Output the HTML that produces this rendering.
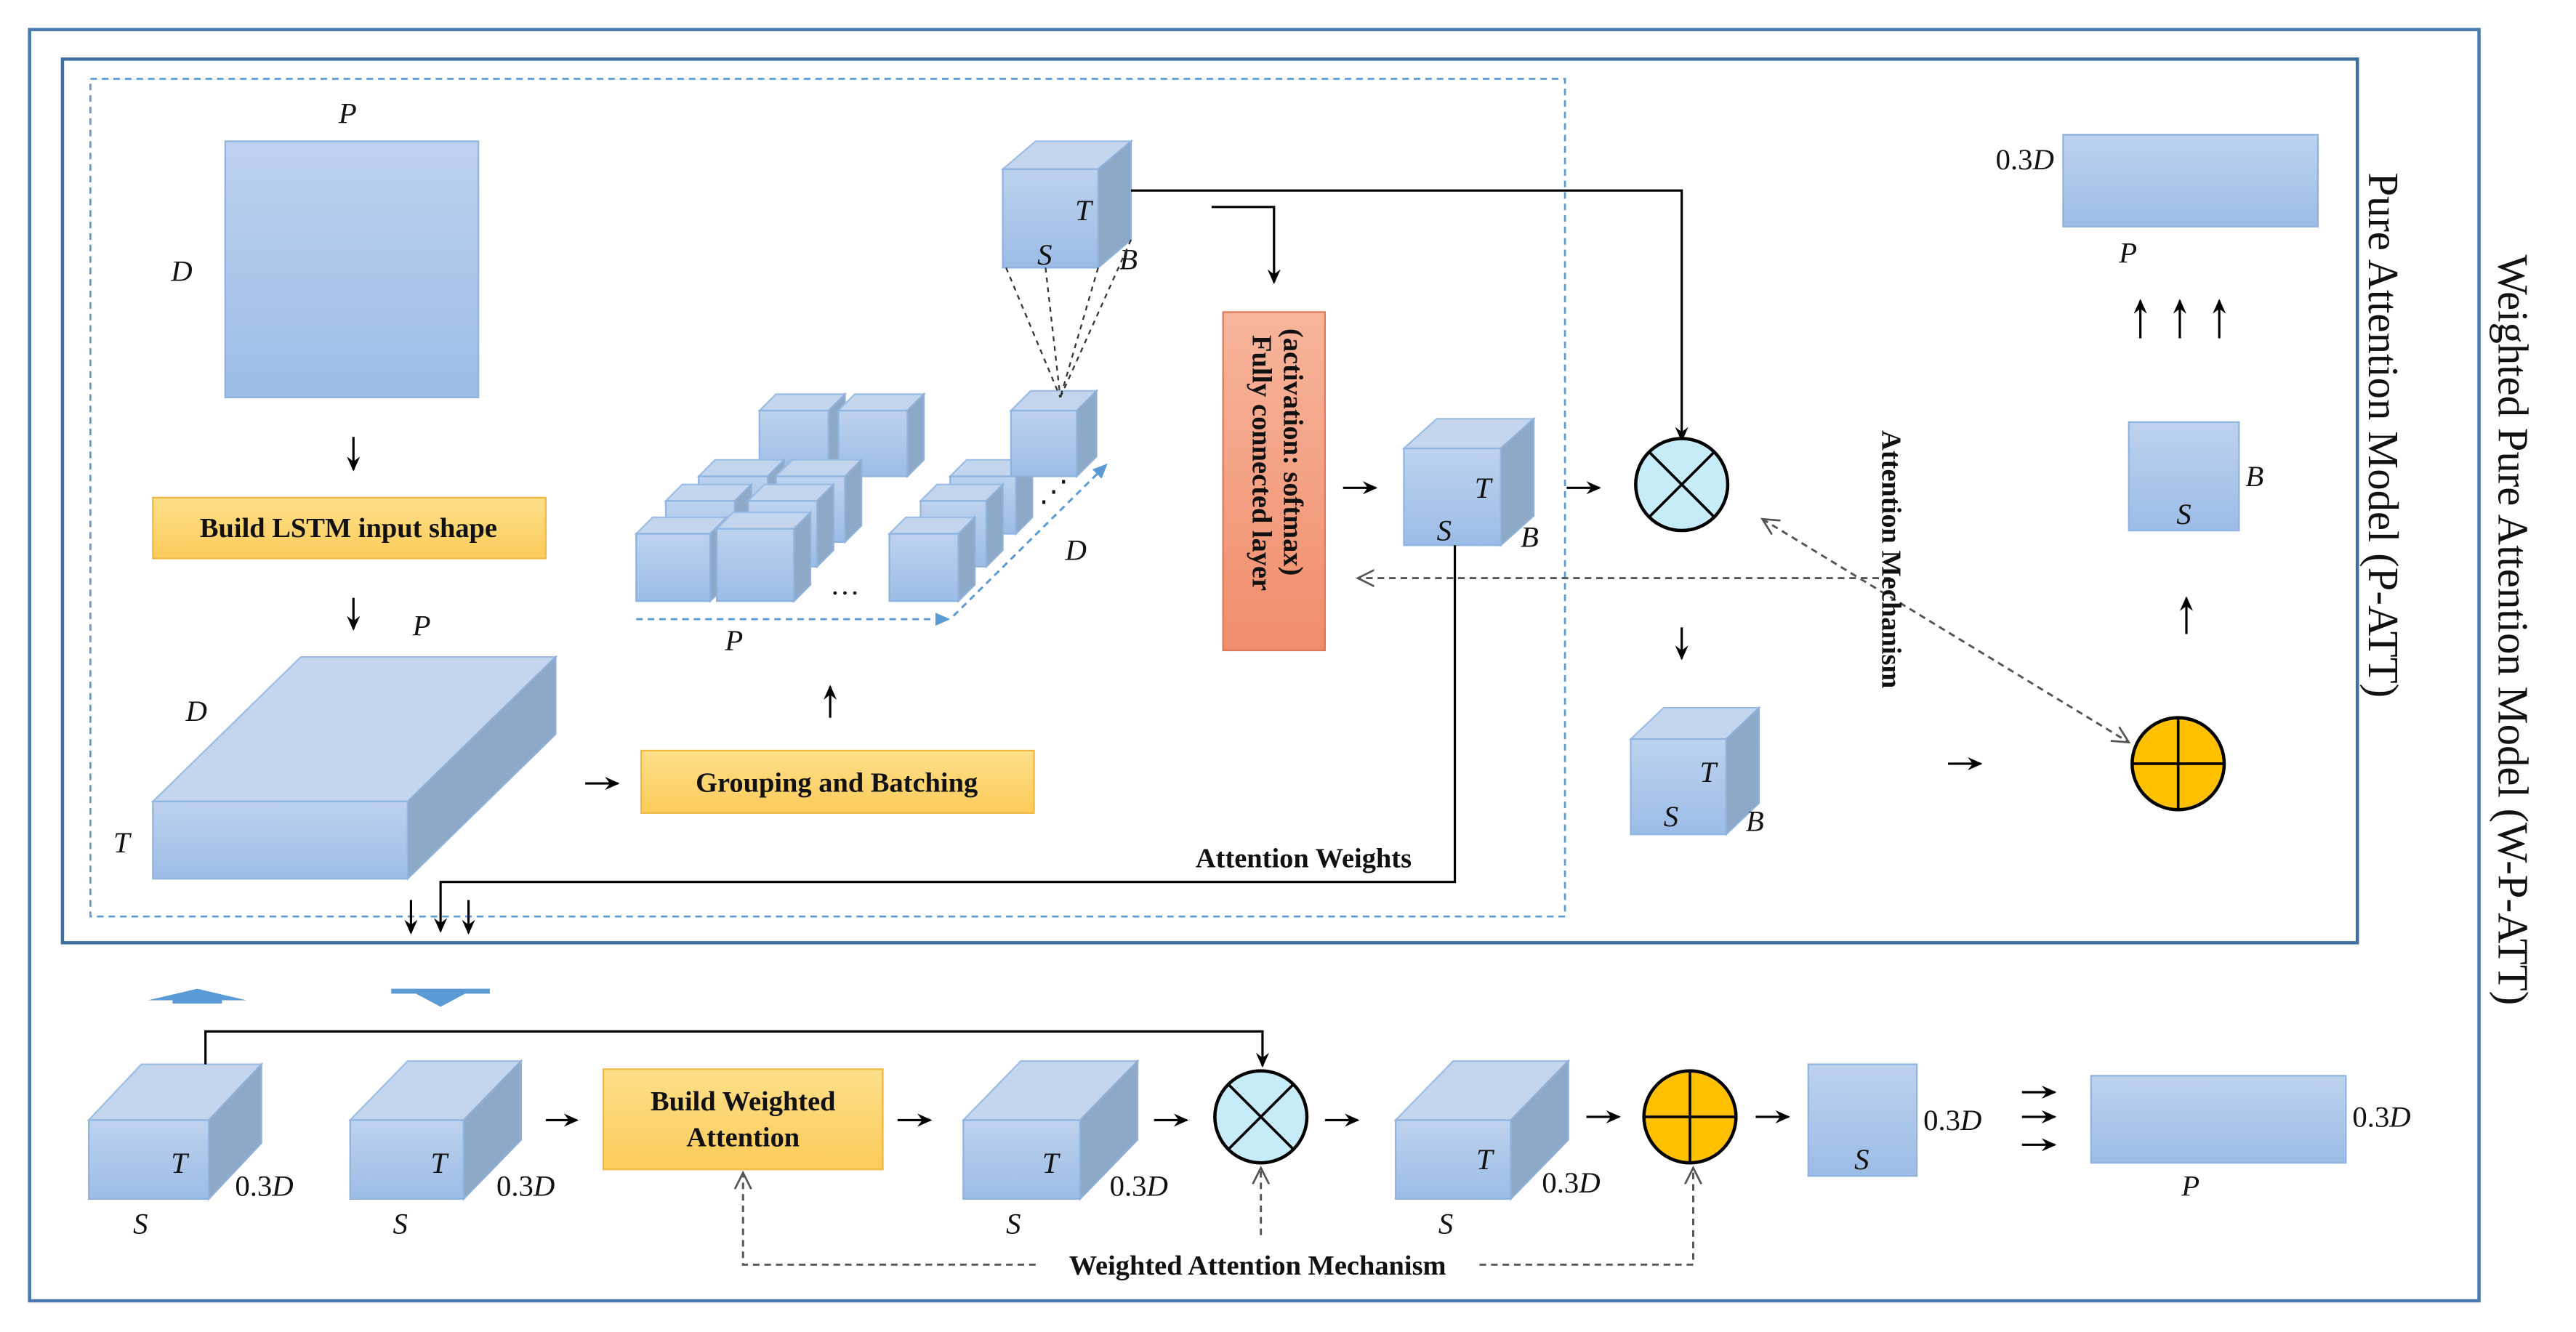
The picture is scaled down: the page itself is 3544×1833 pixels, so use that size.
<!DOCTYPE html>
<html><head><meta charset="utf-8"><style>
html,body{margin:0;padding:0;background:#fff;}
svg{display:block;}
.l{font-family:"Liberation Serif",serif;font-style:italic;font-size:18px;fill:#111;}
.b{font-family:"Liberation Serif",serif;font-weight:bold;font-size:17px;fill:#111;}
.t{font-family:"Liberation Serif",serif;font-size:26px;fill:#111;}
.fr{fill:url(#gf);stroke:#8fb4e0;stroke-width:1;}
.tp{fill:#c3d6ee;stroke:#9cbde6;stroke-width:1;}
.sd{fill:#8ea8c8;stroke:#8fb0d8;stroke-width:1;}
.ar{stroke:#000;stroke-width:1.4;fill:none;marker-end:url(#ah);}
.da{stroke:#555;stroke-width:1.3;fill:none;stroke-dasharray:4,3;}
</style></head><body>
<svg width="3544" height="1833" viewBox="0 0 1567 811" preserveAspectRatio="none" xmlns="http://www.w3.org/2000/svg">
<defs>
<linearGradient id="gf" x1="0" y1="0" x2="0" y2="1"><stop offset="0" stop-color="#bdd2ee"/><stop offset="1" stop-color="#9cbce6"/></linearGradient>
<linearGradient id="go" x1="0" y1="0" x2="0" y2="1"><stop offset="0" stop-color="#fddf8a"/><stop offset="1" stop-color="#fccb5a"/></linearGradient>
<linearGradient id="gs" x1="0" y1="0" x2="0" y2="1"><stop offset="0" stop-color="#f7b59c"/><stop offset="1" stop-color="#f08d6c"/></linearGradient>
<marker id="ah" markerWidth="10" markerHeight="10" refX="8" refY="5" orient="auto" markerUnits="userSpaceOnUse"><path d="M0,1 L9,5 L0,9 L3,5 Z" fill="#000"/></marker>
<marker id="oh" markerWidth="12" markerHeight="12" refX="10" refY="6" orient="auto" markerUnits="userSpaceOnUse"><path d="M0,1 L10,6 L0,11" fill="none" stroke="#555" stroke-width="1.2"/></marker>
<marker id="os" markerWidth="12" markerHeight="12" refX="2" refY="6" orient="auto" markerUnits="userSpaceOnUse"><path d="M12,1 L2,6 L12,11" fill="none" stroke="#555" stroke-width="1.2"/></marker>
<marker id="bh" markerWidth="10" markerHeight="10" refX="8" refY="5" orient="auto" markerUnits="userSpaceOnUse"><path d="M0,1 L9,5 L0,9 Z" fill="#5b9bd5"/></marker>
</defs>

<rect x="18" y="18" width="1490" height="774" fill="none" stroke="#4a7bb0" stroke-width="2"/>
<rect x="38" y="36" width="1396" height="538" fill="none" stroke="#3f6f9f" stroke-width="2"/>
<rect x="55" y="48" width="897" height="510" fill="none" stroke="#5b9bd5" stroke-width="1.2" stroke-dasharray="4,3"/>

<text class="t" transform="translate(1441,105) rotate(90)">Pure Attention Model (P-ATT)</text>
<text class="t" transform="translate(1520,155) rotate(90)">Weighted Pure Attention Model (W-P-ATT)</text>

<rect x="137" y="86" width="154" height="156" class="fr"/>
<text class="l" x="206" y="75">P</text><text class="l" x="104" y="171">D</text>
<line x1="215" y1="266" x2="215" y2="286" class="ar"/>
<rect x="93" y="303" width="239" height="37" fill="url(#go)" stroke="#f0b840"/>
<text class="b" x="212" y="327" text-anchor="middle">Build LSTM input shape</text>
<line x1="215" y1="364" x2="215" y2="383" class="ar"/>
<polygon class="tp" points="93,488 183,400 338,400 248,488"/>
<polygon class="sd" points="248,488 338,400 338,447 248,535"/>
<rect x="93" y="488" width="155" height="47" class="fr"/>
<text class="l" x="251" y="387">P</text><text class="l" x="113" y="439">D</text><text class="l" x="69" y="519">T</text>
<line x1="356" y1="477" x2="376" y2="477" class="ar"/>
<rect x="390" y="457" width="239" height="38" fill="url(#go)" stroke="#f0b840"/>
<text class="b" x="509" y="482" text-anchor="middle">Grouping and Batching</text>
<line x1="505" y1="437" x2="505" y2="418" class="ar"/>

<g>
<polygon class="tp" points="462,250 472,240 514,240 504,250"/><polygon class="sd" points="504,250 514,240 514,280 504,290"/><rect class="fr" x="462" y="250" width="42" height="40"/>
<polygon class="tp" points="510,250 520,240 562,240 552,250"/><polygon class="sd" points="552,250 562,240 562,280 552,290"/><rect class="fr" x="510" y="250" width="42" height="40"/>
<polygon class="tp" points="425,290 435,280 477,280 467,290"/><polygon class="sd" points="467,290 477,280 477,315 467,325"/><rect class="fr" x="425" y="290" width="42" height="35"/>
<polygon class="tp" points="472,290 482,280 524,280 514,290"/><polygon class="sd" points="514,290 524,280 524,320 514,330"/><rect class="fr" x="472" y="290" width="42" height="40"/>
<polygon class="tp" points="405,305 415,295 457,295 447,305"/><polygon class="sd" points="447,305 457,295 457,330 447,340"/><rect class="fr" x="405" y="305" width="42" height="35"/>
<polygon class="tp" points="455,305 465,295 507,295 497,305"/><polygon class="sd" points="497,305 507,295 507,335 497,345"/><rect class="fr" x="455" y="305" width="42" height="40"/>
<polygon class="tp" points="387,325 397,315 442,315 432,325"/><polygon class="sd" points="432,325 442,315 442,356 432,366"/><rect class="fr" x="387" y="325" width="45" height="41"/>
<polygon class="tp" points="436,322 446,312 493,312 483,322"/><polygon class="sd" points="483,322 493,312 493,356 483,366"/><rect class="fr" x="436" y="322" width="47" height="44"/>
<polygon class="tp" points="578,290 588,280 628,280 618,290"/><polygon class="sd" points="618,290 628,280 628,315 618,325"/><rect class="fr" x="578" y="290" width="40" height="35"/>
<polygon class="tp" points="560,305 570,295 610,295 600,305"/><polygon class="sd" points="600,305 610,295 610,335 600,345"/><rect class="fr" x="560" y="305" width="40" height="40"/>
<polygon class="tp" points="541,325 551,315 593,315 583,325"/><polygon class="sd" points="583,325 593,315 593,356 583,366"/><rect class="fr" x="541" y="325" width="42" height="41"/>
<polygon class="tp" points="615,250 627,238 667,238 655,250"/><polygon class="sd" points="655,250 667,238 667,278 655,290"/><rect class="fr" x="615" y="250" width="40" height="40"/>
</g>
<text class="l" x="505" y="362" style="font-style:normal">…</text>
<text class="l" x="632" y="305" style="font-style:normal">⋰</text>
<line x1="387" y1="377" x2="577" y2="377" stroke="#5b9bd5" stroke-width="1.3" stroke-dasharray="4,3" marker-end="url(#bh)"/>
<line x1="580" y1="375" x2="673" y2="283" stroke="#5b9bd5" stroke-width="1.3" stroke-dasharray="4,3" marker-end="url(#bh)"/>
<text class="l" x="441" y="396">P</text><text class="l" x="648" y="341">D</text>

<polygon class="tp" points="610,103 630,86 688,86 668,103"/><polygon class="sd" points="668,103 688,86 688,146 668,163"/><rect class="fr" x="610" y="103" width="58" height="60"/>
<text class="l" x="654" y="134">T</text><text class="l" x="631" y="161">S</text><text class="l" x="681" y="164">B</text>
<g stroke="#333" stroke-width="1" stroke-dasharray="3,3"><line x1="612" y1="163" x2="645" y2="242"/><line x1="636" y1="163" x2="645" y2="242"/><line x1="668" y1="163" x2="645" y2="242"/><line x1="688" y1="146" x2="645" y2="242"/></g>

<polyline points="688,116 1023,116 1023,268" class="ar"/>
<polyline points="737,126 775,126 775,172" class="ar"/>
<rect x="744" y="190" width="62" height="206" fill="url(#gs)" stroke="#e0785a"/>
<text class="b" transform="translate(781,200) rotate(90)">(activation: softmax)</text>
<text class="b" transform="translate(762,204) rotate(90)">Fully connected layer</text>
<line x1="817" y1="297" x2="837" y2="297" class="ar"/>
<polygon class="tp" points="854,273 874,255 933,255 913,273"/><polygon class="sd" points="913,273 933,255 933,314 913,332"/><rect class="fr" x="854" y="273" width="59" height="59"/>
<text class="l" x="897" y="303">T</text><text class="l" x="874" y="329">S</text><text class="l" x="925" y="333">B</text>
<line x1="953" y1="297" x2="973" y2="297" class="ar"/>
<g><ellipse cx="1023" cy="295" rx="28" ry="28" fill="#c5ecf8" stroke="#000" stroke-width="2"/><line x1="1003" y1="275" x2="1043" y2="315" stroke="#000" stroke-width="1.6"/><line x1="1043" y1="275" x2="1003" y2="315" stroke="#000" stroke-width="1.6"/></g>
<polyline points="885,332 885,537 268,537 268,567" class="ar"/>
<line x1="250" y1="548" x2="250" y2="568" class="ar"/><line x1="285" y1="548" x2="285" y2="568" class="ar"/>
<text class="b" x="793" y="528" text-anchor="middle">Attention Weights</text>
<line x1="1150" y1="352" x2="826" y2="352" class="da" marker-end="url(#oh)"/>
<line x1="1072" y1="316" x2="1295" y2="452" class="da" marker-end="url(#oh)" marker-start="url(#os)"/>
<text class="b" transform="translate(1145,262) rotate(90)">Attention Mechanism</text>
<line x1="1023" y1="382" x2="1023" y2="401" class="ar"/>
<polygon class="tp" points="992,450 1012,431 1070,431 1050,450"/><polygon class="sd" points="1050,450 1070,431 1070,489 1050,508"/><rect class="fr" x="992" y="450" width="58" height="58"/>
<text class="l" x="1034" y="476">T</text><text class="l" x="1012" y="503">S</text><text class="l" x="1062" y="506">B</text>
<line x1="1185" y1="465" x2="1205" y2="465" class="ar"/>
<g><ellipse cx="1325" cy="465" rx="28" ry="28" fill="#ffc000" stroke="#000" stroke-width="2"/><line x1="1297" y1="465" x2="1353" y2="465" stroke="#000" stroke-width="1.6"/><line x1="1325" y1="437" x2="1325" y2="493" stroke="#000" stroke-width="1.6"/></g>
<line x1="1330" y1="386" x2="1330" y2="364" class="ar"/>
<rect class="fr" x="1295" y="257" width="67" height="66"/>
<text class="l" x="1366" y="296">B</text><text class="l" x="1324" y="319">S</text>
<line x1="1302" y1="206" x2="1302" y2="183" class="ar"/><line x1="1326" y1="206" x2="1326" y2="183" class="ar"/><line x1="1350" y1="206" x2="1350" y2="183" class="ar"/>
<rect class="fr" x="1255" y="82" width="155" height="56"/>
<text class="l" x="1214" y="103" style="font-style:normal">0.3<tspan font-style="italic">D</tspan></text>
<text class="l" x="1289" y="160">P</text>

<polygon points="90,609 120,602 150,609 135,609 135,611 105,611 105,609" fill="#5b9bd5"/>
<polygon points="238,602 298,602 298,605 283,605 268,613 253,605 238,605" fill="#5b9bd5"/>

<polygon class="tp" points="54,682 86,648 159,648 127,682"/><polygon class="sd" points="127,682 159,648 159,696 127,730"/><rect class="fr" x="54" y="682" width="73" height="48"/>
<text class="l" x="104" y="714">T</text><text class="l" x="143" y="728" style="font-style:normal">0.3<tspan font-style="italic">D</tspan></text><text class="l" x="81" y="751">S</text>
<polyline points="125,648 125,628 768,628 768,649" class="ar"/>

<polygon class="tp" points="213,682 248,646 317,646 282,682"/><polygon class="sd" points="282,682 317,646 317,694 282,730"/><rect class="fr" x="213" y="682" width="69" height="48"/>
<text class="l" x="262" y="714">T</text><text class="l" x="302" y="728" style="font-style:normal">0.3<tspan font-style="italic">D</tspan></text><text class="l" x="239" y="751">S</text>
<line x1="332" y1="682" x2="351" y2="682" class="ar"/>
<rect x="367" y="651" width="170" height="61" fill="url(#go)" stroke="#f0b840"/>
<text class="b" x="452" y="676" text-anchor="middle">Build Weighted</text><text class="b" x="452" y="698" text-anchor="middle">Attention</text>
<line x1="546" y1="682" x2="566" y2="682" class="ar"/>
<polygon class="tp" points="586,682 621,646 692,646 657,682"/><polygon class="sd" points="657,682 692,646 692,694 657,730"/><rect class="fr" x="586" y="682" width="71" height="48"/>
<text class="l" x="634" y="714">T</text><text class="l" x="675" y="728" style="font-style:normal">0.3<tspan font-style="italic">D</tspan></text><text class="l" x="612" y="751">S</text>
<line x1="702" y1="682" x2="722" y2="682" class="ar"/>
<g><ellipse cx="767" cy="680" rx="28" ry="28" fill="#c5ecf8" stroke="#000" stroke-width="2"/><line x1="747" y1="660" x2="787" y2="700" stroke="#000" stroke-width="1.6"/><line x1="787" y1="660" x2="747" y2="700" stroke="#000" stroke-width="1.6"/></g>
<line x1="806" y1="682" x2="826" y2="682" class="ar"/>
<polygon class="tp" points="849,682 884,646 954,646 919,682"/><polygon class="sd" points="919,682 954,646 954,694 919,730"/><rect class="fr" x="849" y="682" width="70" height="48"/>
<text class="l" x="898" y="712">T</text><text class="l" x="938" y="726" style="font-style:normal">0.3<tspan font-style="italic">D</tspan></text><text class="l" x="875" y="751">S</text>
<line x1="965" y1="680" x2="985" y2="680" class="ar"/>
<g><ellipse cx="1028" cy="680" rx="28" ry="28" fill="#ffc000" stroke="#000" stroke-width="2"/><line x1="1000" y1="680" x2="1056" y2="680" stroke="#000" stroke-width="1.6"/><line x1="1028" y1="652" x2="1028" y2="708" stroke="#000" stroke-width="1.6"/></g>
<line x1="1068" y1="680" x2="1088" y2="680" class="ar"/>
<rect class="fr" x="1100" y="648" width="66" height="68"/>
<text class="l" x="1128" y="712">S</text><text class="l" x="1170" y="688" style="font-style:normal">0.3<tspan font-style="italic">D</tspan></text>
<line x1="1230" y1="665" x2="1250" y2="665" class="ar"/><line x1="1230" y1="680" x2="1250" y2="680" class="ar"/><line x1="1230" y1="697" x2="1250" y2="697" class="ar"/>
<rect class="fr" x="1272" y="655" width="155" height="53"/>
<text class="l" x="1431" y="686" style="font-style:normal">0.3<tspan font-style="italic">D</tspan></text><text class="l" x="1327" y="728">P</text>

<polyline points="630,770 452,770 452,714" class="da" marker-end="url(#oh)"/>
<text class="b" x="765" y="776" text-anchor="middle">Weighted Attention Mechanism</text>
<polyline points="900,770 1030,770 1030,711" class="da" marker-end="url(#oh)"/>
<line x1="767" y1="752" x2="767" y2="711" class="da" marker-end="url(#oh)"/>
</svg>
</body></html>
